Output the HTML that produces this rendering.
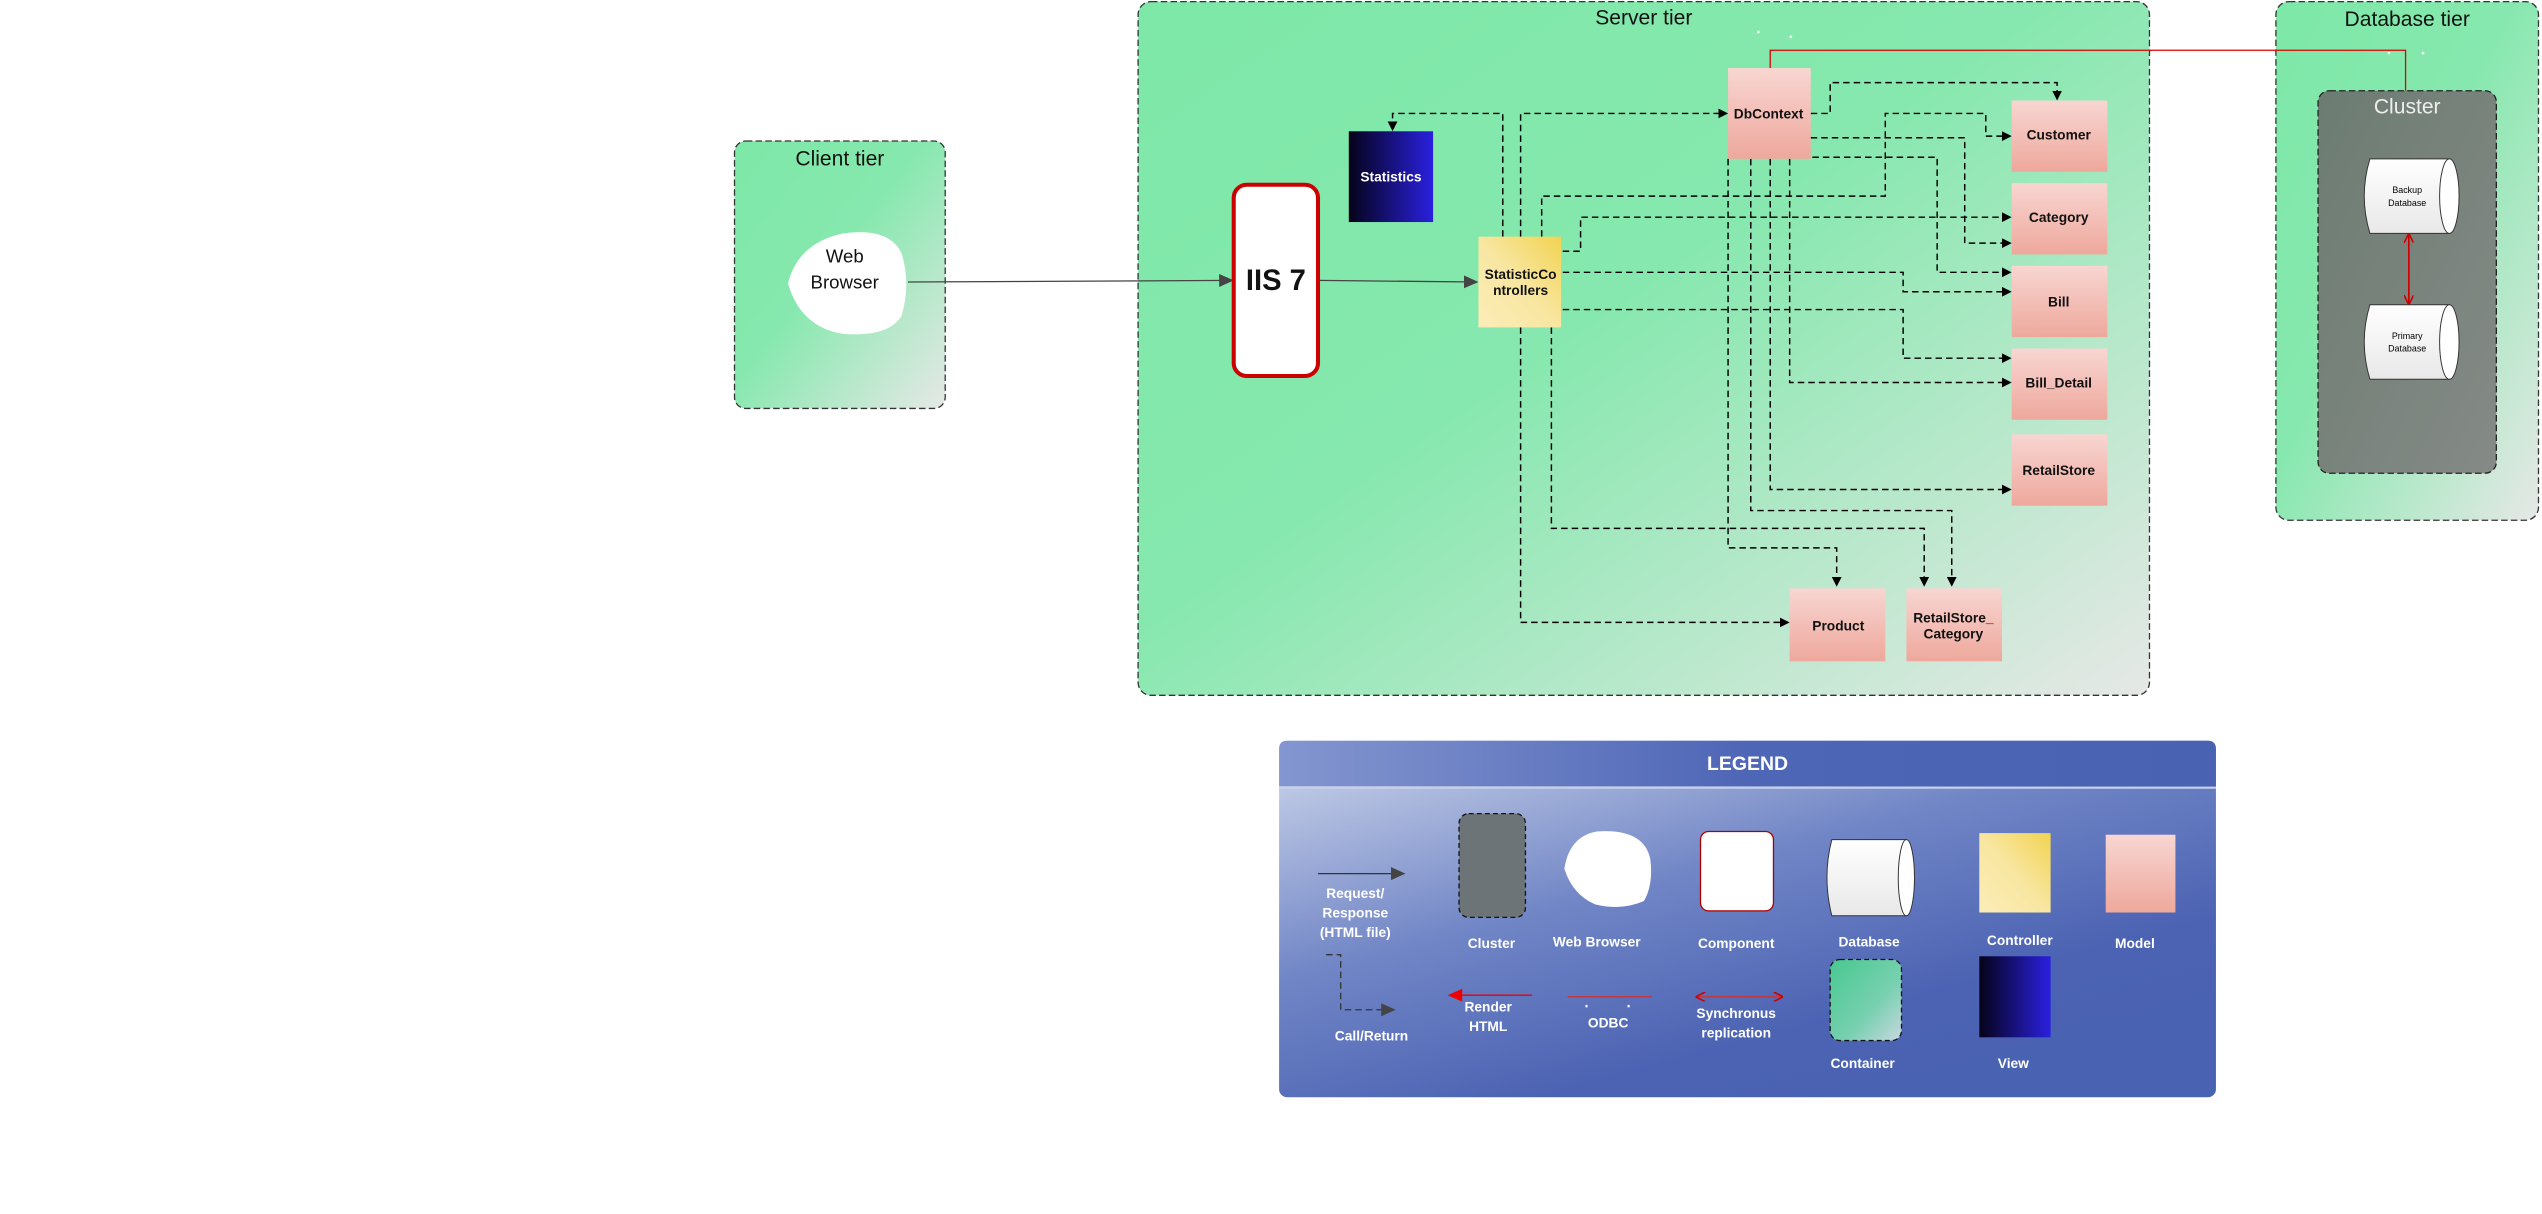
<!DOCTYPE html>
<html><head><meta charset="utf-8"><style>
html,body{margin:0;padding:0;background:#fff;}
svg{display:block}
text{font-family:"Liberation Sans",sans-serif;}
</style></head><body>
<svg width="2542" height="1214" viewBox="0 0 1568 749" xmlns="http://www.w3.org/2000/svg">
<defs>
<linearGradient id="tier" x1="0" y1="0" x2="1" y2="1">
<stop offset="0" stop-color="#7de8a8"/><stop offset="0.45" stop-color="#86e8ae"/><stop offset="1" stop-color="#e6e8e6"/></linearGradient>
<linearGradient id="cl" x1="0" y1="0" x2="1" y2="1"><stop offset="0" stop-color="#6c7c72"/><stop offset="1" stop-color="#858a86"/></linearGradient>
<linearGradient id="model" x1="0" y1="0" x2="0" y2="1"><stop offset="0" stop-color="#f8d6d2"/><stop offset="1" stop-color="#eea89c"/></linearGradient>
<linearGradient id="ctrl" x1="1" y1="0" x2="0" y2="1"><stop offset="0" stop-color="#f2d352"/><stop offset="0.5" stop-color="#f8e6a0"/><stop offset="1" stop-color="#fbedb8"/></linearGradient>
<linearGradient id="view" x1="0" y1="0" x2="1" y2="0"><stop offset="0" stop-color="#05031a"/><stop offset="1" stop-color="#2a20e0"/></linearGradient>
<linearGradient id="leg" x1="0" y1="0" x2="0.7" y2="1"><stop offset="0" stop-color="#d0d8ec"/><stop offset="0.45" stop-color="#7186c6"/><stop offset="0.8" stop-color="#4c63b3"/><stop offset="1" stop-color="#4a62b2"/></linearGradient>
<linearGradient id="legh" x1="0" y1="0" x2="1" y2="0"><stop offset="0" stop-color="#8496d0"/><stop offset="0.5" stop-color="#4e66b6"/><stop offset="1" stop-color="#4a62b2"/></linearGradient>
<linearGradient id="cont" x1="0" y1="0" x2="1" y2="1"><stop offset="0" stop-color="#48c890"/><stop offset="0.6" stop-color="#78d0b0"/><stop offset="1" stop-color="#c8d8e0"/></linearGradient>
<linearGradient id="db" x1="0" y1="0" x2="0" y2="1"><stop offset="0" stop-color="#ffffff"/><stop offset="1" stop-color="#e8e8e8"/></linearGradient>
<marker id="a" markerWidth="6" markerHeight="6" refX="5" refY="3" orient="auto" markerUnits="userSpaceOnUse"><path d="M0,0 L6,3 L0,6 Z" fill="#000"/></marker>
<marker id="g" markerWidth="9" markerHeight="8" refX="8" refY="4" orient="auto" markerUnits="userSpaceOnUse"><path d="M0,0 L9,4 L0,8 Z" fill="#444"/></marker>
<marker id="r" markerWidth="9" markerHeight="8" refX="8" refY="4" orient="auto" markerUnits="userSpaceOnUse"><path d="M0,0 L9,4 L0,8 Z" fill="#e00"/></marker>
<marker id="ro" markerWidth="6" markerHeight="6" refX="5" refY="3" orient="auto-start-reverse" markerUnits="userSpaceOnUse"><path d="M0,0 L6,3 L0,6" fill="none" stroke="#c00" stroke-width="1"/></marker>
</defs>

<!-- Client tier -->
<rect x="453" y="87" width="130" height="165" rx="7" fill="url(#tier)" stroke="#333" stroke-width="0.8" stroke-dasharray="4,2"/>
<text x="518" y="102" font-size="13" text-anchor="middle" fill="#111">Client tier</text>
<path d="M486,175 Q492,150 520,144 Q548,140 556,156 Q562,175 556,195 Q548,208 520,206 Q494,202 486,175 Z" fill="#fff"/>
<text x="521" y="162" font-size="11.5" text-anchor="middle" fill="#111">Web</text>
<text x="521" y="178" font-size="11.5" text-anchor="middle" fill="#111">Browser</text>

<!-- Server tier -->
<rect x="702" y="1" width="624" height="428" rx="8" fill="url(#tier)" stroke="#333" stroke-width="0.8" stroke-dasharray="4,2"/>
<text x="1014" y="15" font-size="13" text-anchor="middle" fill="#111">Server tier</text>

<!-- Database tier -->
<rect x="1404" y="1" width="162" height="320" rx="8" fill="url(#tier)" stroke="#333" stroke-width="0.8" stroke-dasharray="4,2"/>
<text x="1485" y="16" font-size="13" text-anchor="middle" fill="#111">Database tier</text>
<rect x="1430" y="56" width="110" height="236" rx="7" fill="url(#cl)" stroke="#222" stroke-width="0.8" stroke-dasharray="4,2"/>
<text x="1485" y="70" font-size="13" text-anchor="middle" fill="#eee">Cluster</text>
<g>
<path d="M1462,98 L1511,98 L1511,144 L1462,144 Q1455,121 1462,98 Z" fill="url(#db)" stroke="#333" stroke-width="0.6"/>
<ellipse cx="1511" cy="121" rx="6" ry="23" fill="#fff" stroke="#333" stroke-width="0.6"/>
<text x="1485" y="119" font-size="5.5" text-anchor="middle">Backup</text>
<text x="1485" y="127" font-size="5.5" text-anchor="middle">Database</text>
<path d="M1462,188 L1511,188 L1511,234 L1462,234 Q1455,211 1462,188 Z" fill="url(#db)" stroke="#333" stroke-width="0.6"/>
<ellipse cx="1511" cy="211" rx="6" ry="23" fill="#fff" stroke="#333" stroke-width="0.6"/>
<text x="1485" y="209" font-size="5.5" text-anchor="middle">Primary</text>
<text x="1485" y="217" font-size="5.5" text-anchor="middle">Database</text>
<line x1="1486" y1="145" x2="1486" y2="187" stroke="#c00" stroke-width="1" marker-start="url(#ro)" marker-end="url(#ro)"/>
</g>
<!-- ODBC red line -->
<polyline points="1092,42 1092,31 1484,31 1484,56" fill="none" stroke="#d00" stroke-width="0.8"/>
<rect x="1084" y="19" width="1.5" height="1.5" fill="#fff"/><rect x="1104" y="22" width="1.5" height="1.5" fill="#fff"/>
<rect x="1473" y="32" width="1.5" height="1.5" fill="#fff"/><rect x="1494" y="32" width="1.5" height="1.5" fill="#fff"/>

<!-- request arrows -->
<line x1="560" y1="174" x2="760" y2="173" stroke="#444" stroke-width="0.8" marker-end="url(#g)"/>
<line x1="813" y1="173" x2="911" y2="174" stroke="#444" stroke-width="0.8" marker-end="url(#g)"/>

<!-- dashed connectors -->
<g fill="none" stroke="#000" stroke-width="0.9" stroke-dasharray="4,2.5" marker-end="url(#a)">
<polyline points="927,146 927,70 859,70 859,80"/>
<polyline points="938,146 938,70 1065,70"/>
<polyline points="1117,70 1129,70 1129,51 1269,51 1269,61"/>
<polyline points="951,146 951,121 1163,121 1163,70 1225,70 1225,84 1240,84"/>
<polyline points="964,155 975,155 975,134 1240,134"/>
<polyline points="1117,85 1212,85 1212,150 1240,150"/>
<polyline points="1118,97 1195,97 1195,168 1240,168"/>
<polyline points="964,168 1174,168 1174,180 1240,180"/>
<polyline points="964,191 1174,191 1174,221 1240,221"/>
<polyline points="1104,98 1104,236 1240,236"/>
<polyline points="1092,98 1092,302 1240,302"/>
<polyline points="1080,98 1080,315 1204,315 1204,361"/>
<polyline points="1066,98 1066,338 1133,338 1133,361"/>
<polyline points="957,202 957,326 1187,326 1187,361"/>
<polyline points="938,202 938,384 1103,384"/>
</g>

<!-- IIS 7 -->
<rect x="761" y="114" width="52" height="118" rx="8" fill="#fff" stroke="#c00" stroke-width="2.5"/>
<text x="787" y="179" font-size="18" font-weight="bold" text-anchor="middle" fill="#111">IIS 7</text>
<!-- Statistics view -->
<rect x="832" y="81" width="52" height="56" fill="url(#view)"/>
<text x="858" y="112" font-size="8.5" font-weight="bold" text-anchor="middle" fill="#fff">Statistics</text>
<!-- Controller -->
<rect x="912" y="146" width="51" height="56" fill="url(#ctrl)"/>
<text x="938" y="172" font-size="8.5" font-weight="bold" text-anchor="middle" fill="#111">StatisticCo</text>
<text x="938" y="182" font-size="8.5" font-weight="bold" text-anchor="middle" fill="#111">ntrollers</text>
<!-- Models -->
<g font-size="8.5" font-weight="bold" text-anchor="middle" fill="#111">
<rect x="1066" y="42" width="51" height="56" fill="url(#model)"/><text x="1091" y="73">DbContext</text>
<rect x="1241" y="62" width="59" height="44" fill="url(#model)"/><text x="1270" y="86">Customer</text>
<rect x="1241" y="113" width="59" height="44" fill="url(#model)"/><text x="1270" y="137">Category</text>
<rect x="1241" y="164" width="59" height="44" fill="url(#model)"/><text x="1270" y="189">Bill</text>
<rect x="1241" y="215" width="59" height="44" fill="url(#model)"/><text x="1270" y="239">Bill_Detail</text>
<rect x="1241" y="268" width="59" height="44" fill="url(#model)"/><text x="1270" y="293">RetailStore</text>
<rect x="1104" y="363" width="59" height="45" fill="url(#model)"/><text x="1134" y="389">Product</text>
<rect x="1176" y="363" width="59" height="45" fill="url(#model)"/><text x="1205" y="384">RetailStore_</text><text x="1205" y="394">Category</text>
</g>

<!-- Legend -->
<rect x="789" y="457" width="578" height="220" rx="5" fill="url(#leg)"/>
<path d="M794,457 L1362,457 Q1367,457 1367,462 L1367,485 L789,485 L789,462 Q789,457 794,457 Z" fill="url(#legh)"/>
<line x1="789" y1="486" x2="1367" y2="486" stroke="#c8d0ea" stroke-width="1.2"/>
<text x="1078" y="475" font-size="12" font-weight="bold" text-anchor="middle" fill="#fff">LEGEND</text>
<g font-size="8.5" font-weight="bold" text-anchor="middle" fill="#fff">
<line x1="813" y1="539" x2="866" y2="539" stroke="#333" stroke-width="0.8" marker-end="url(#g)"/>
<text x="836" y="554">Request/</text><text x="836" y="566">Response</text><text x="836" y="578">(HTML file)</text>
<rect x="900" y="502" width="41" height="64" rx="6" fill="#6c7478" stroke="#111" stroke-width="0.8" stroke-dasharray="3,2"/>
<text x="920" y="585">Cluster</text>
<path d="M965,536 Q968,516 985,513 Q1014,511 1018,530 Q1020,546 1014,556 Q1000,562 984,558 Q970,552 965,536 Z" fill="#fff"/>
<text x="985" y="584">Web Browser</text>
<rect x="1049" y="513" width="45" height="49" rx="5" fill="#fff" stroke="#a00" stroke-width="0.8"/>
<text x="1071" y="585">Component</text>
<path d="M1130,518 L1176,518 L1176,565 L1130,565 Q1124,541 1130,518 Z" fill="url(#db)" stroke="#333" stroke-width="0.6"/>
<ellipse cx="1176" cy="541.5" rx="5" ry="23.5" fill="#fff" stroke="#333" stroke-width="0.6"/>
<text x="1153" y="584">Database</text>
<rect x="1221" y="514" width="44" height="49" fill="url(#ctrl)"/>
<text x="1246" y="583">Controller</text>
<rect x="1299" y="515" width="43" height="48" fill="url(#model)"/>
<text x="1317" y="585">Model</text>
<polyline points="818,589 827,589 827,623 860,623" fill="none" stroke="#333" stroke-width="0.8" stroke-dasharray="4,2.5" marker-end="url(#g)"/>
<text x="846" y="642">Call/Return</text>
<line x1="945" y1="614" x2="894" y2="614" stroke="#e00" stroke-width="0.9" marker-end="url(#r)"/>
<text x="918" y="624">Render</text><text x="918" y="636">HTML</text>
<line x1="967" y1="615" x2="1019" y2="615" stroke="#c33" stroke-width="0.9"/>
<rect x="978" y="620" width="1.3" height="1.5" fill="#fff"/><rect x="1004" y="620" width="1.3" height="1.5" fill="#fff"/>
<text x="992" y="634">ODBC</text>
<line x1="1047" y1="615" x2="1099" y2="615" stroke="#c33" stroke-width="0.9" marker-start="url(#ro)" marker-end="url(#ro)"/>
<text x="1071" y="628">Synchronus</text><text x="1071" y="640">replication</text>
<rect x="1129" y="592" width="44" height="50" rx="6" fill="url(#cont)" stroke="#111" stroke-width="0.8" stroke-dasharray="3,2"/>
<text x="1149" y="659">Container</text>
<rect x="1221" y="590" width="44" height="50" fill="url(#view)"/>
<text x="1242" y="659">View</text>
</g>
</svg>
</body></html>
